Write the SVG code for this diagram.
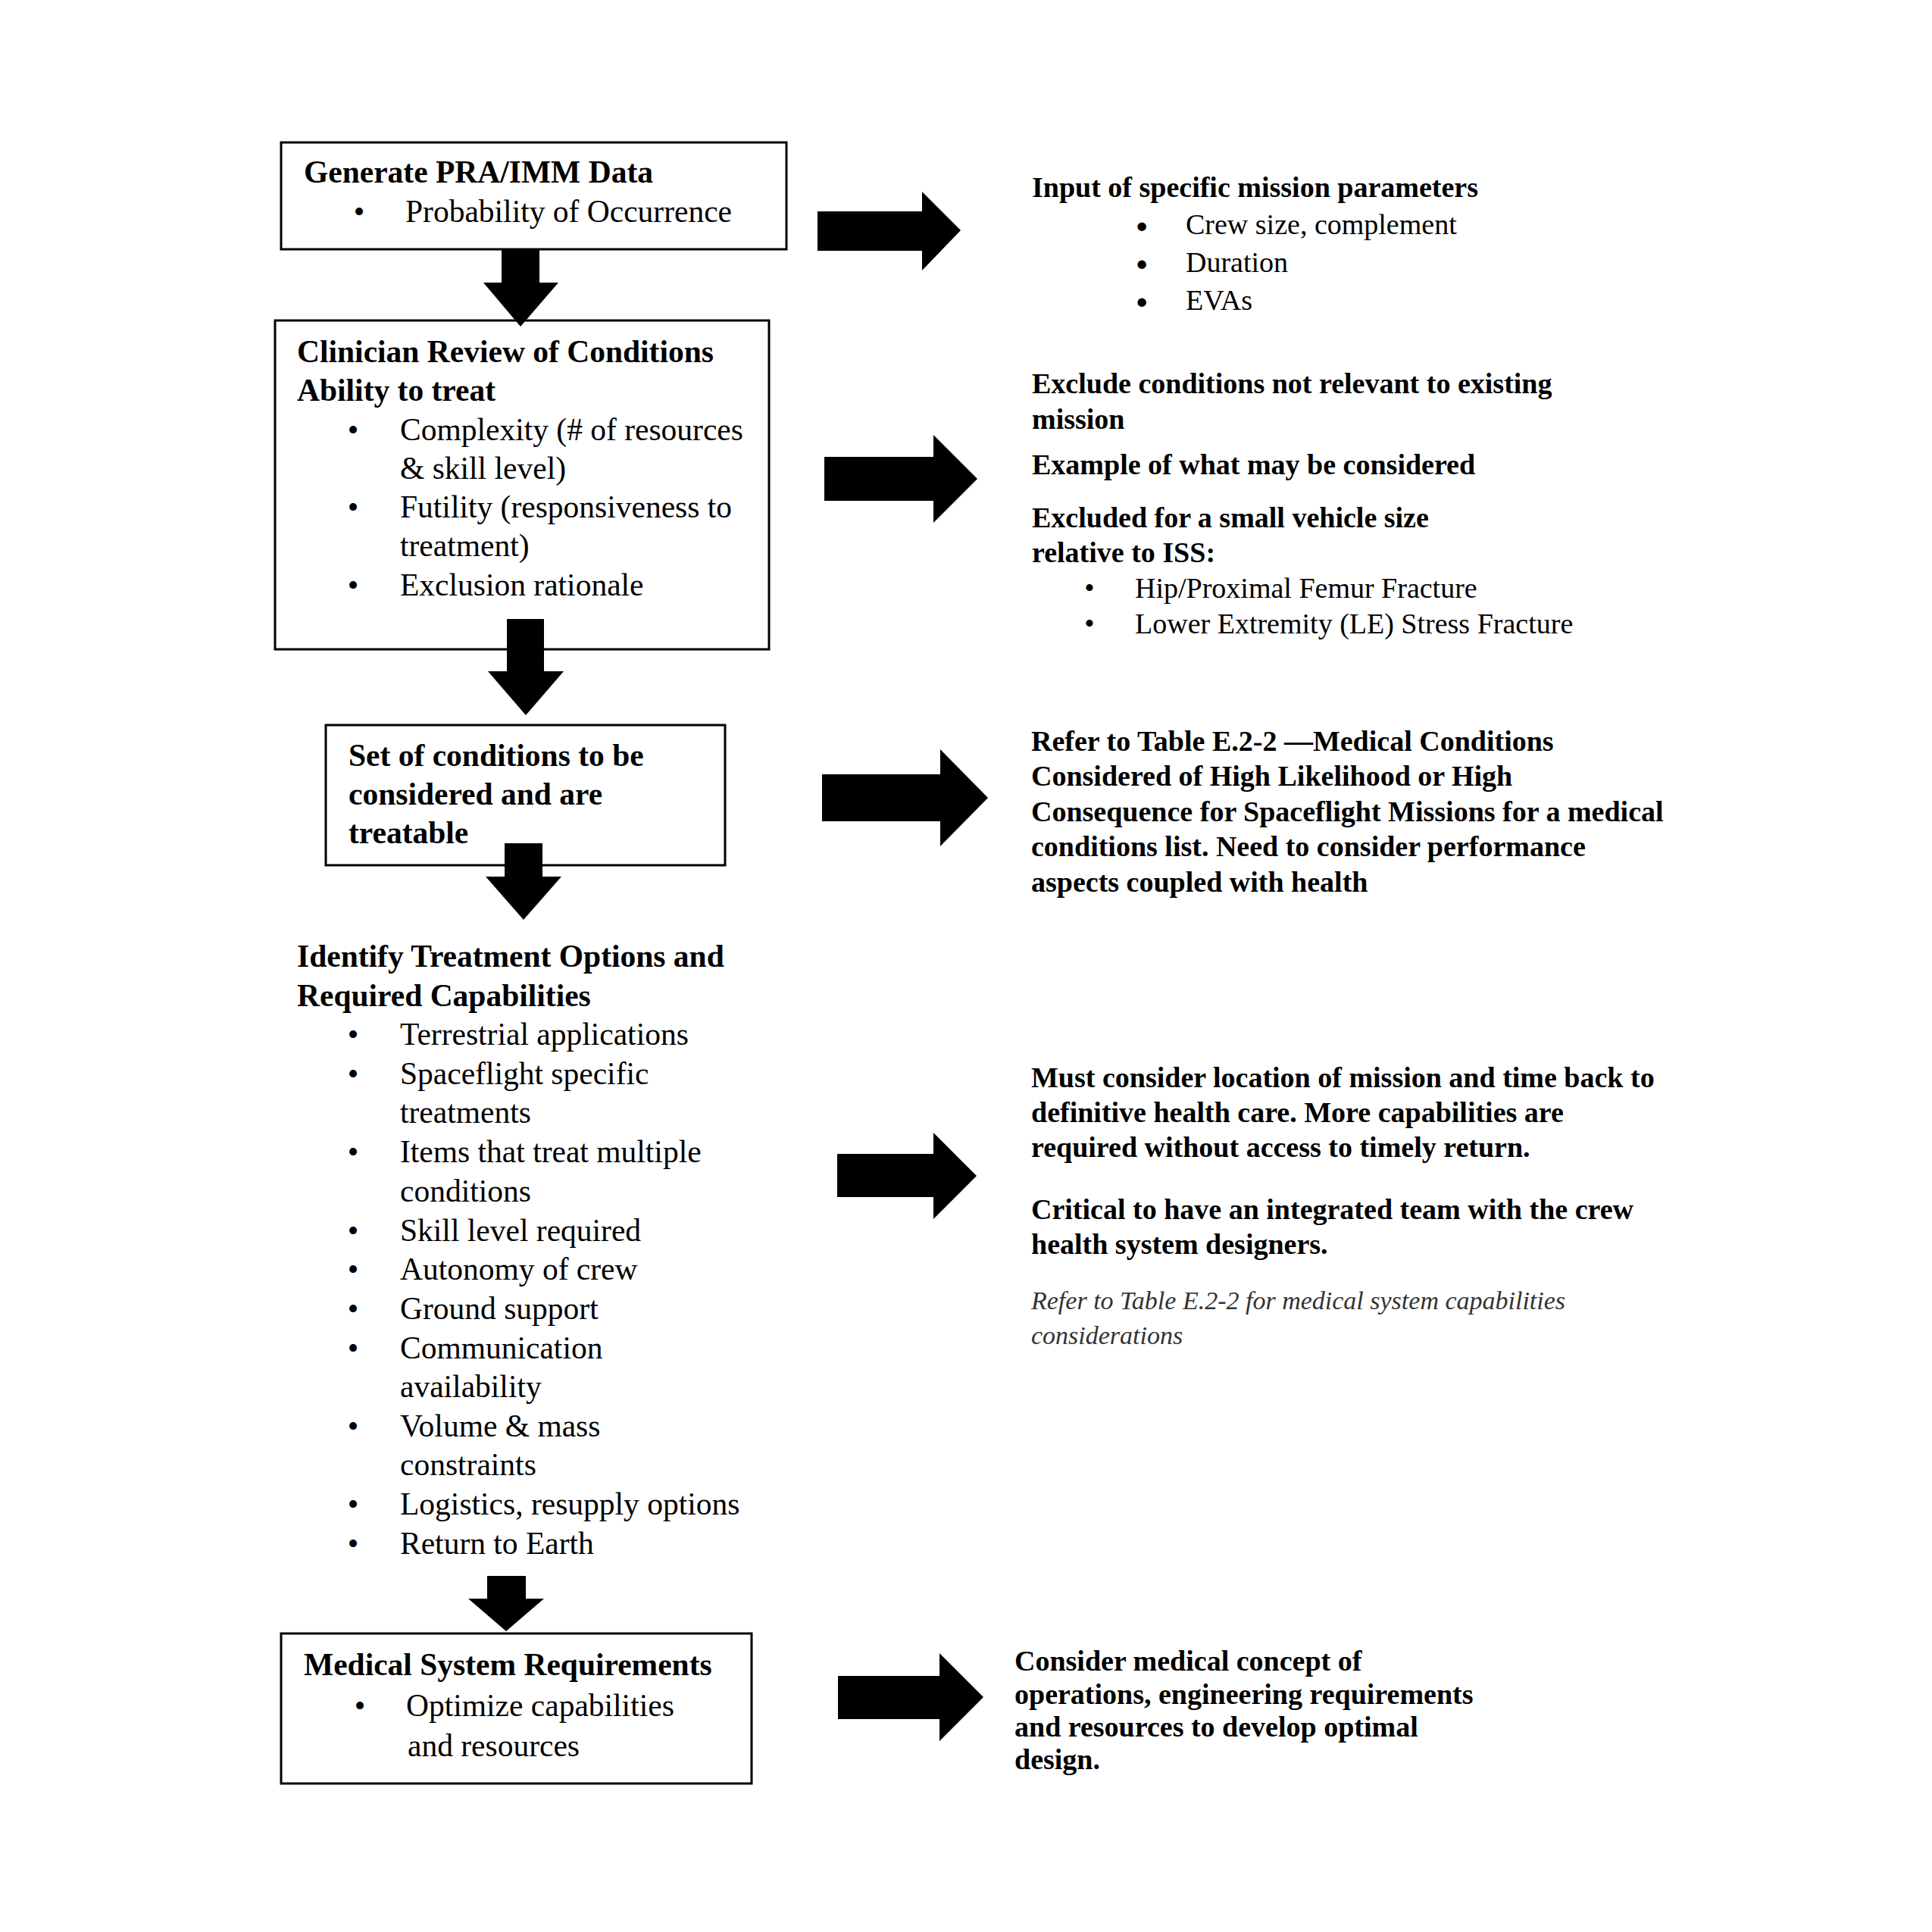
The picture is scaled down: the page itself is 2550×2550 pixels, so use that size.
<svg xmlns="http://www.w3.org/2000/svg" width="2550" height="2550" viewBox="0 0 2550 2550">
<style>
text{font-family:"Liberation Serif","Times New Roman",serif;fill:#000}
.b{font-weight:bold;font-size:41.5px}
.r{font-size:41.5px}
.rb{font-weight:bold;font-size:38px}
.rr{font-size:38px}
.it{font-style:italic;font-size:34px;fill:#333}
.box{fill:#fff;stroke:#000;stroke-width:3}
.arrow{fill:#000;stroke:none}
.bul{font-size:41.5px;text-anchor:middle}
.bigbul{font-size:42px;font-weight:bold;text-anchor:middle}
.smbul{font-size:38px;text-anchor:middle}
</style>
<rect width="2550" height="2550" fill="#fff"/>

<g id="node-generate">
<rect class="box" x="371" y="188" width="667" height="141"/>
<text class="b" x="401" y="241">Generate PRA/IMM Data</text>
<text class="bul" x="474" y="293">•</text>
<text class="r" x="535" y="293">Probability of Occurrence</text>
</g>

<g id="node-clinician">
<rect class="box" x="363" y="423" width="652" height="434"/>
<text class="b" x="392" y="478">Clinician Review of Conditions</text>
<text class="b" x="392" y="529">Ability to treat</text>
<text class="bul" x="466" y="581">•</text>
<text class="r" x="528" y="581">Complexity (# of resources</text>
<text class="r" x="528" y="632">&amp; skill level)</text>
<text class="bul" x="466" y="683">•</text>
<text class="r" x="528" y="683">Futility (responsiveness to</text>
<text class="r" x="528" y="734">treatment)</text>
<text class="bul" x="466" y="786">•</text>
<text class="r" x="528" y="786">Exclusion rationale</text>
</g>

<g id="node-set">
<rect class="box" x="430" y="957" width="527" height="185"/>
<text class="b" x="460" y="1011">Set of conditions to be</text>
<text class="b" x="460" y="1062">considered and are</text>
<text class="b" x="460" y="1113">treatable</text>
</g>

<g id="node-identify">
<text class="b" x="392" y="1276">Identify Treatment Options and</text>
<text class="b" x="392" y="1328">Required Capabilities</text>
<text class="bul" x="466" y="1379">•</text>
<text class="r" x="528" y="1379">Terrestrial applications</text>
<text class="bul" x="466" y="1431">•</text>
<text class="r" x="528" y="1431">Spaceflight specific</text>
<text class="r" x="528" y="1482">treatments</text>
<text class="bul" x="466" y="1534">•</text>
<text class="r" x="528" y="1534">Items that treat multiple</text>
<text class="r" x="528" y="1586">conditions</text>
<text class="bul" x="466" y="1638">•</text>
<text class="r" x="528" y="1638">Skill level required</text>
<text class="bul" x="466" y="1689">•</text>
<text class="r" x="528" y="1689">Autonomy of crew</text>
<text class="bul" x="466" y="1741">•</text>
<text class="r" x="528" y="1741">Ground support</text>
<text class="bul" x="466" y="1793">•</text>
<text class="r" x="528" y="1793">Communication</text>
<text class="r" x="528" y="1844">availability</text>
<text class="bul" x="466" y="1896">•</text>
<text class="r" x="528" y="1896">Volume &amp; mass</text>
<text class="r" x="528" y="1947">constraints</text>
<text class="bul" x="466" y="1999">•</text>
<text class="r" x="528" y="1999">Logistics, resupply options</text>
<text class="bul" x="466" y="2051">•</text>
<text class="r" x="528" y="2051">Return to Earth</text>
</g>

<g id="node-requirements">
<rect class="box" x="371" y="2156" width="621" height="198"/>
<text class="b" x="401" y="2211">Medical System Requirements</text>
<text class="bul" x="475" y="2265">•</text>
<text class="r" x="536" y="2265">Optimize capabilities</text>
<text class="r" x="538" y="2318">and resources</text>
</g>

<g id="note-mission">
<text class="rb" x="1362" y="260">Input of specific mission parameters</text>
<text class="bigbul" x="1507" y="313">•</text>
<text class="rr" x="1565" y="309">Crew size, complement</text>
<text class="bigbul" x="1507" y="363">•</text>
<text class="rr" x="1565" y="359">Duration</text>
<text class="bigbul" x="1507" y="413">•</text>
<text class="rr" x="1565" y="409">EVAs</text>
</g>

<g id="note-exclude">
<text class="rb" x="1362" y="519">Exclude conditions not relevant to existing</text>
<text class="rb" x="1362" y="566">mission</text>
<text class="rb" x="1362" y="626">Example of what may be considered</text>
<text class="rb" x="1362" y="696">Excluded for a small vehicle size</text>
<text class="rb" x="1362" y="742">relative to ISS:</text>
<text class="smbul" x="1438" y="789">•</text>
<text class="rr" x="1498" y="789">Hip/Proximal Femur Fracture</text>
<text class="smbul" x="1438" y="836">•</text>
<text class="rr" x="1498" y="836">Lower Extremity (LE) Stress Fracture</text>
</g>

<g id="note-table">
<text class="rb" x="1361" y="991">Refer to Table E.2-2 —Medical Conditions</text>
<text class="rb" x="1361" y="1037">Considered of High Likelihood or High</text>
<text class="rb" x="1361" y="1084">Consequence for Spaceflight Missions for a medical</text>
<text class="rb" x="1361" y="1130">conditions list. Need to consider performance</text>
<text class="rb" x="1361" y="1177">aspects coupled with health</text>
</g>

<g id="note-location">
<text class="rb" x="1361" y="1435">Must consider location of mission and time back to</text>
<text class="rb" x="1361" y="1481">definitive health care. More capabilities are</text>
<text class="rb" x="1361" y="1527">required without access to timely return.</text>
<text class="rb" x="1361" y="1609">Critical to have an integrated team with the crew</text>
<text class="rb" x="1361" y="1655">health system designers.</text>
<text class="it" x="1361" y="1728">Refer to Table E.2-2 for medical system capabilities</text>
<text class="it" x="1361" y="1774">considerations</text>
</g>

<g id="note-design">
<text class="rb" x="1339" y="2205">Consider medical concept of</text>
<text class="rb" x="1339" y="2249">operations, engineering requirements</text>
<text class="rb" x="1339" y="2292">and resources to develop optimal</text>
<text class="rb" x="1339" y="2335">design.</text>
</g>

<g id="connectors">
<polygon class="arrow" points="662,329 712,329 712,373 737,373 687,431 638,373 662,373"/>
<polygon class="arrow" points="669,817 718,817 718,886 744,886 694,944 644,886 669,886"/>
<polygon class="arrow" points="666,1113 716,1113 716,1157 741,1157 691,1214 641,1157 666,1157"/>
<polygon class="arrow" points="643,2080 694,2080 694,2110 718,2110 668,2153 618,2110 643,2110"/>
<polygon class="arrow" points="1079,279 1217,279 1217,253 1268,304 1217,357 1217,331 1079,331"/>
<polygon class="arrow" points="1088,603 1232,603 1232,574 1290,632 1232,690 1232,661 1088,661"/>
<polygon class="arrow" points="1085,1022 1241,1022 1241,989 1304,1053 1241,1117 1241,1084 1085,1084"/>
<polygon class="arrow" points="1105,1523 1232,1523 1232,1495 1289,1552 1232,1609 1232,1580 1105,1580"/>
<polygon class="arrow" points="1106,2212 1240,2212 1240,2182 1298,2240 1240,2298 1240,2269 1106,2269"/>
</g>
</svg>
